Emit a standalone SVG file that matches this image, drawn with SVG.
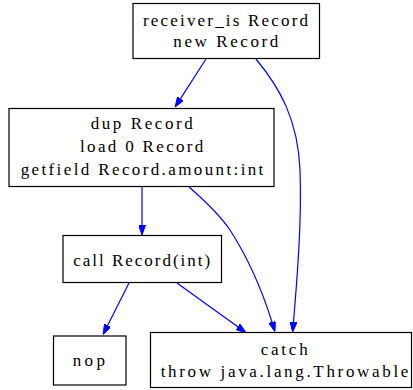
<svg xmlns="http://www.w3.org/2000/svg" width="413" height="390" viewBox="0 0 413 390">
<style>
.box{fill:#fff;stroke:#000;stroke-width:1.2}
.t{font-family:"Liberation Serif","Times New Roman",serif;font-size:17px;fill:#000;text-anchor:middle}
.e{fill:none;stroke:#0000ff;stroke-width:1.2}
</style>
<defs>
<marker id="ah" viewBox="0 0 10 7" refX="0" refY="3.5" markerWidth="10" markerHeight="7" markerUnits="userSpaceOnUse" orient="auto">
<path d="M0,0 L10,3.5 L0,7 z" fill="#0000ff" stroke="#0000ff" stroke-width="1"/>
</marker>
</defs>
<rect width="413" height="390" fill="#fff"/>
<g id="edges">
<path class="e" marker-end="url(#ah)" d="M206,59 L180.5,98.6"/>
<path class="e" marker-end="url(#ah)" d="M256,59 C280,88 298,120 300,170 C302,220 297,280 293.5,322"/>
<path class="e" marker-end="url(#ah)" d="M142,187 L142,225"/>
<path class="e" marker-end="url(#ah)" d="M189,187 C205,201 220,215 230,230 C248,258 262,290 272,322"/>
<path class="e" marker-end="url(#ah)" d="M129,283 L107.6,325.5"/>
<path class="e" marker-end="url(#ah)" d="M177,283 L237.8,326.8"/>
</g>
<g id="n1">
<rect class="box" x="133" y="3.5" width="186.5" height="55"/>
<text class="t" x="225.5" y="26.3" textLength="165" lengthAdjust="spacing">receiver_is Record</text>
<text class="t" x="225.8" y="46.7" textLength="105" lengthAdjust="spacing">new Record</text>
</g>
<g id="n2">
<rect class="box" x="9" y="108.5" width="265" height="78"/>
<text class="t" x="141.7" y="129.3" textLength="102" lengthAdjust="spacing">dup Record</text>
<text class="t" x="141.7" y="152.3" textLength="123.3" lengthAdjust="spacing">load 0 Record</text>
<text class="t" x="142" y="175" textLength="242.7" lengthAdjust="spacing">getfield Record.amount:int</text>
</g>
<g id="n3">
<rect class="box" x="63" y="235.5" width="158.5" height="47"/>
<text class="t" x="141.7" y="265.5" textLength="136.7" lengthAdjust="spacing">call Record(int)</text>
</g>
<g id="n4">
<rect class="box" x="53.5" y="336" width="72.5" height="49"/>
<text class="t" x="88.8" y="366" textLength="32.3" lengthAdjust="spacing">nop</text>
</g>
<g id="n5">
<rect class="box" x="150.5" y="332.5" width="261" height="55"/>
<text class="t" x="284.2" y="355" textLength="47" lengthAdjust="spacing">catch</text>
<text class="t" x="284.5" y="376.7" textLength="247.7" lengthAdjust="spacing">throw java.lang.Throwable</text>
</g>
</svg>
